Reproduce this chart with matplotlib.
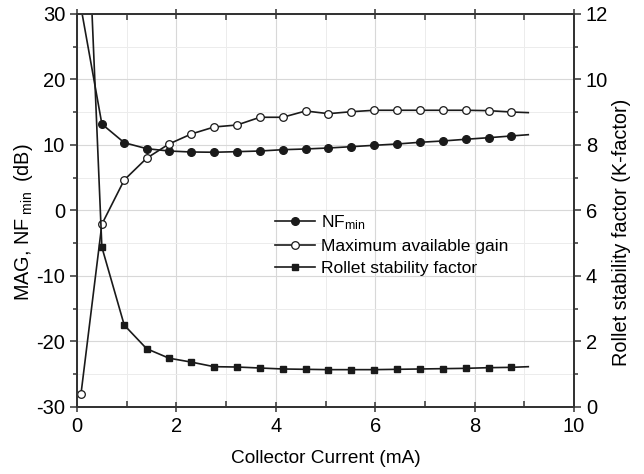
import matplotlib
matplotlib.use("Agg")
import matplotlib.pyplot as plt
from matplotlib.ticker import MultipleLocator

plt.rcParams['font.family'] = ['Liberation Sans', 'DejaVu Sans']
plt.rcParams['mathtext.fontset'] = 'custom'
plt.rcParams['mathtext.rm'] = 'Liberation Sans'
plt.rcParams['mathtext.it'] = 'Liberation Sans'
plt.rcParams['axes.unicode_minus'] = False

current_mA = [0.08, 0.5, 0.95, 1.4, 1.85, 2.3, 2.76, 3.22, 3.68, 4.14, 4.6,
              5.06, 5.52, 5.98, 6.44, 6.9, 7.36, 7.82, 8.28, 8.73, 9.08]
nf_min = [31.0, 13.2, 10.35, 9.44, 9.08, 8.93, 8.89, 8.98, 9.08, 9.28, 9.39,
          9.54, 9.74, 9.95, 10.15, 10.41, 10.61, 10.87, 11.11, 11.37, 11.57]
mag = [-28.0, -2.1, 4.66, 7.97, 10.15, 11.68, 12.75, 13.05, 14.23, 14.23, 15.19,
       14.78, 15.08, 15.3, 15.3, 15.3, 15.3, 15.3, 15.24, 15.04, 14.94]
k_factor = [20.0, 4.88, 2.50, 1.78, 1.49, 1.37, 1.23, 1.22, 1.19, 1.16, 1.15,
            1.14, 1.14, 1.14, 1.15, 1.16, 1.17, 1.18, 1.20, 1.21, 1.23]

labels = [r'NF$_{\mathregular{min}}$', 'Maximum available gain', 'Rollet stability factor']

fig = plt.figure(figsize=(6.44, 4.74), dpi=100)
ax = fig.add_axes([0.1196, 0.1414, 0.7717, 0.8291])
ax2 = ax.twinx()

lc = '#1a1a1a'
mev = slice(0, len(current_mA) - 1)
l1, = ax.plot(current_mA, nf_min, '-', color=lc, lw=1.2, marker='o', ms=5.5,
              mfc=lc, mec=lc, markevery=mev, label=labels[0])
l2, = ax.plot(current_mA, mag, '-', color=lc, lw=1.2, marker='o', ms=5.5,
              mfc='white', mec=lc, mew=0.9, markevery=mev, label=labels[1])
l3, = ax2.plot(current_mA, k_factor, '-', color=lc, lw=1.2, marker='s', ms=5,
               mfc=lc, mec=lc, markevery=mev, label=labels[2])

ax.set_xlim(0, 10)
ax.set_ylim(-30, 30)
ax2.set_ylim(0, 12)

ax.xaxis.set_major_locator(MultipleLocator(2))
ax.xaxis.set_minor_locator(MultipleLocator(1))
ax.yaxis.set_major_locator(MultipleLocator(10))
ax.yaxis.set_minor_locator(MultipleLocator(5))
ax2.yaxis.set_major_locator(MultipleLocator(2))
ax2.yaxis.set_minor_locator(MultipleLocator(1))

ax.grid(True, which='major', color='#d8d8d8', lw=0.8)
ax.grid(True, which='minor', color='#ececec', lw=0.7)
ax.set_axisbelow(True)

sc = '#333333'
for a in (ax, ax2):
    for s in a.spines.values():
        s.set_color(sc)
        s.set_linewidth(1.3)

ax.tick_params(axis='x', which='major', direction='inout', length=7, width=1.1,
               color=sc, labelsize=14.5, top=True, pad=4)
ax.tick_params(axis='x', which='minor', direction='in', length=4, width=1.1,
               color=sc, top=True)
ax.tick_params(axis='y', which='major', direction='out', length=5, width=1.1,
               color=sc, labelsize=14.5)
ax.tick_params(axis='y', which='minor', direction='out', length=3, width=1.1, color=sc)
ax2.tick_params(axis='y', which='major', direction='out', length=5, width=1.1,
                color=sc, labelsize=14.5)
ax2.tick_params(axis='y', which='minor', direction='out', length=3, width=1.1, color=sc)

ax.set_xlabel('Collector Current (mA)', fontsize=13.7, labelpad=10)
ax.set_ylabel(r'MAG, NF$_{\mathregular{\ min\ }}$ (dB)', fontsize=14.3, labelpad=1)
ax2.set_ylabel('Rollet stability factor (K-factor)', fontsize=14.3, labelpad=3)
ax.yaxis.label.set_y(0.47)
ax2.yaxis.label.set_y(0.445)

leg = ax.legend([l1, l2, l3], labels, loc='upper left',
                bbox_to_anchor=(0.398, 0.492), frameon=False, fontsize=12.6,
                handlelength=2.3, handletextpad=0.35, labelspacing=0.38,
                borderpad=0, borderaxespad=0)

fig.savefig('out.png', dpi=100)
